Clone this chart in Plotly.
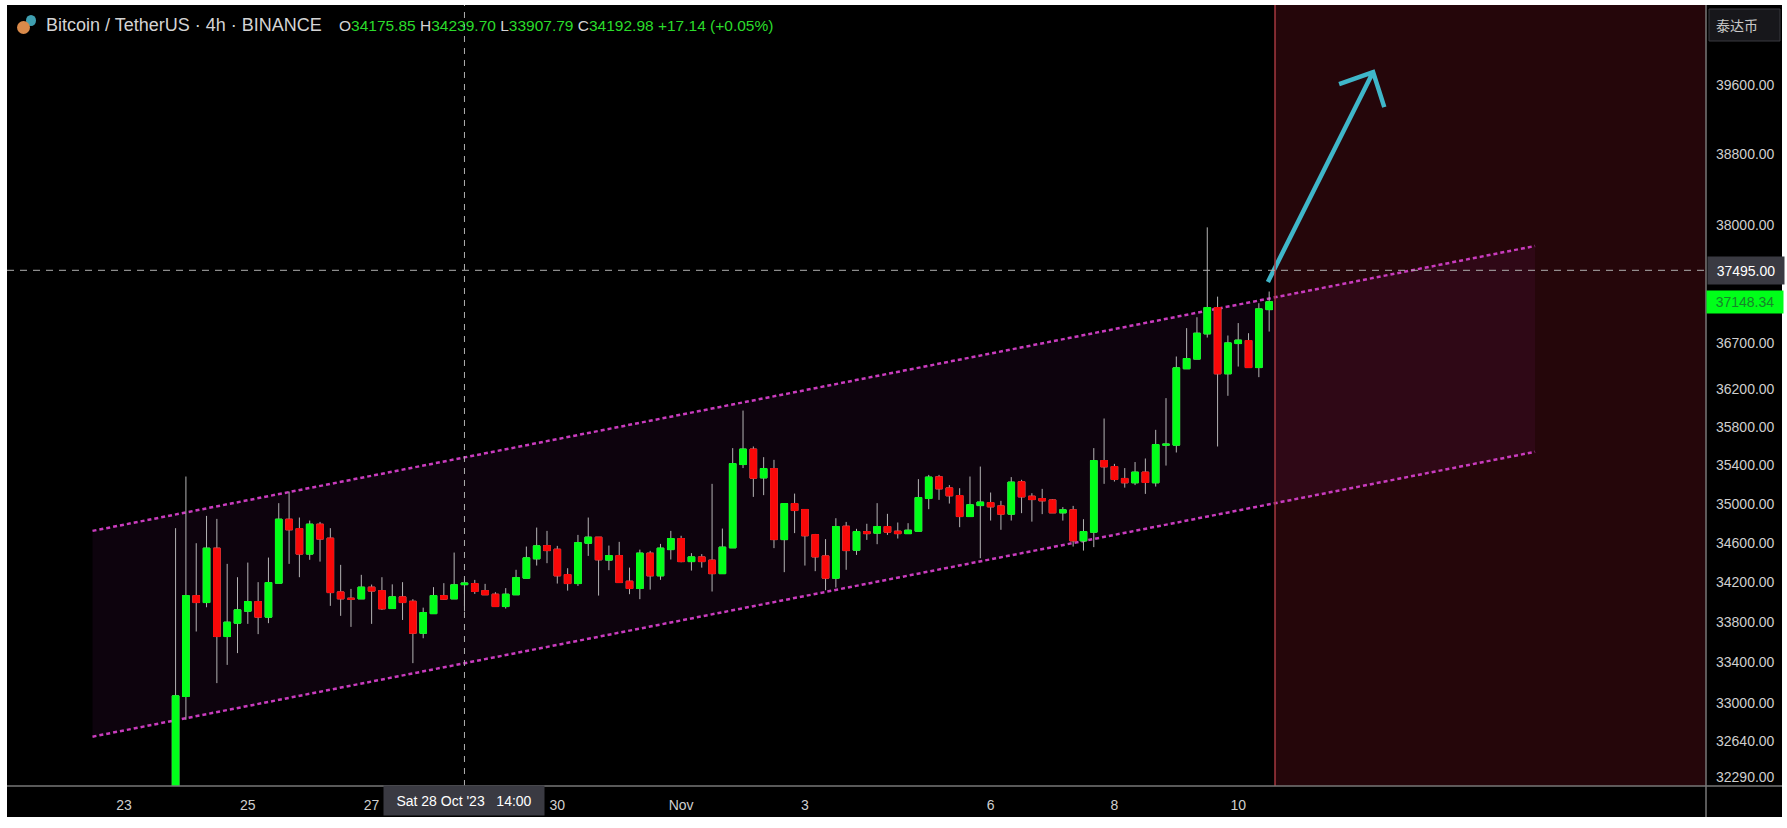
import numpy as np
import pandas as pd
import plotly.graph_objects as go

# 4h candles
candle_time = pd.date_range("2023-10-23 22:00", periods=107, freq="4h")
candle_open = [
    31900, 33067, 34066, 33996, 34546, 33657, 33790, 33910, 34006, 33850,
    34191, 34842, 34746, 34485, 34791, 34648, 34103, 34040, 34033, 34151,
    34116, 33936, 34053, 34009, 33690, 33885, 34066, 34033, 34175.85, 34187,
    34116, 34080, 33956, 34074, 34241, 34437, 34572, 34535, 34278, 34187,
    34596, 34658, 34424, 34470, 34211, 34137, 34495, 34265, 34531, 34644,
    34409, 34457, 34424, 34287, 34549, 35408, 35570, 35269, 35366, 34633,
    35003, 34942, 34684, 34467, 34241, 34770, 34525, 34715, 34699, 34767,
    34719, 34694, 34719, 35055, 35280, 35165, 35086, 34869, 34982, 35013,
    34979, 34894, 35229, 35079, 35055, 35041, 34907, 34938, 34620, 34709,
    35450, 35387, 35263, 35218, 35329, 35218, 35611, 35611, 36422, 36526,
    36799, 37086, 36368, 36694, 36727, 36435, 37063,
]
candle_high = [
    34750, 35283, 34596, 34876, 34845, 34386, 34251, 34399, 34201, 34450,
    35007, 35127, 34859, 34828, 34814, 34750, 34376, 34133, 34275, 34177,
    34251, 34179, 34201, 34030, 33945, 34151, 34191, 34501, 34239.70, 34224,
    34184, 34100, 34141, 34326, 34562, 34756, 34722, 34569, 34342, 34681,
    34859, 34658, 34572, 34610, 34348, 34531, 34518, 34589, 34722, 34672,
    34495, 34485, 35207, 34746, 35580, 35976, 35597, 35485, 35457, 35007,
    35106, 34945, 34691, 34638, 34852, 34814, 34743, 34795, 35007, 34897,
    34808, 34801, 35256, 35300, 35300, 35194, 35162, 35283, 35387, 35117,
    35031, 35277, 35249, 35110, 35155, 35049, 34966, 34979, 34842, 35580,
    35892, 35415, 35371, 35434, 35471, 35772, 36108, 36554, 36861, 36980,
    37973, 37205, 36781, 36916, 36806, 37133, 37261,
]
candle_low = [
    31750, 32841, 33707, 33949, 33198, 33377, 33493, 33783, 33681, 33790,
    34191, 34386, 34251, 34427, 34409, 33963, 33863, 33753, 34033, 33783,
    33923, 33936, 33822, 33394, 33640, 33885, 34023, 34033, 33907.79, 34083,
    34074, 33956, 33936, 34074, 34241, 34369, 34393, 34187, 34116, 34163,
    34467, 34066, 34322, 34197, 34080, 34030, 34126, 34224, 34430, 34402,
    34318, 34348, 34107, 34287, 34549, 35371, 35072, 35090, 34546, 34302,
    34699, 34369, 34312, 34120, 34147, 34326, 34477, 34630, 34586, 34681,
    34644, 34694, 34719, 34945, 35041, 35003, 34760, 34869, 34443, 34828,
    34733, 34828, 34904, 34817, 34894, 34907, 34828, 34562, 34521, 34556,
    35207, 35231, 35168, 35194, 35103, 35179, 35397, 35534, 36422, 36526,
    36759, 35597, 36133, 36446, 36435, 36332, 36824,
]
candle_close = [
    33074, 34066, 33996, 34546, 33657, 33800, 33923, 34006, 33850, 34197,
    34842, 34733, 34485, 34791, 34638, 34096, 34033, 34030, 34151, 34111,
    33933, 34053, 33996, 33690, 33896, 34066, 34030, 34174, 34192.98, 34107,
    34074, 33956, 34080, 34247, 34447, 34569, 34521, 34265, 34187, 34602,
    34658, 34427, 34470, 34197, 34137, 34495, 34265, 34546, 34644, 34409,
    34457, 34409, 34287, 34556, 35418, 35570, 35266, 35366, 34633, 35003,
    34931, 34672, 34457, 34241, 34767, 34521, 34715, 34694, 34767, 34709,
    34694, 34729, 35065, 35277, 35155, 35083, 34869, 34990, 35018, 34969,
    34894, 35225, 35072, 35044, 35031, 34907, 34938, 34620, 34715, 35450,
    35384, 35252, 35218, 35329, 35221, 35617, 35621, 36432, 36532, 36806,
    37086, 36368, 36701, 36731, 36435, 37071, 37148.34,
]

# drawn objects
channel_time = ["2023-10-22 13:47", "2023-11-14 21:05"]
channel_upper = [34722, 37765]
channel_lower = [32678, 35541]
arrow_time = ["2023-11-10 13:31", "2023-11-12 06:18", "2023-11-11 17:07", "2023-11-12 06:18", "2023-11-12 10:38"]
arrow_price = [37367, 39752, 39612, 39752, 39344]

x_range = ["2023-10-21 04:38", "2023-11-17 15:22"]
y_range = [32206, 40546]
zone_start = "2023-11-10 16:16"
cross_time = "2023-10-28 14:00"
cross_price = 37495
last_price = 37148.34

y_ticks = [39600, 38800, 38000, 36700, 36200, 35800, 35400, 35000,
           34600, 34200, 33800, 33400, 33000, 32640, 32290]
x_tick_time = ["2023-10-23 02:00", "2023-10-25 02:00", "2023-10-27 02:00", "2023-10-30 02:00",
               "2023-11-01 02:00", "2023-11-03 02:00", "2023-11-06 02:00", "2023-11-08 02:00",
               "2023-11-10 02:00"]
x_tick_text = ["23", "25", "27", "30", "Nov", "3", "6", "8", "10"]

FONT = "Liberation Sans"
GREEN = "#00ff19"
RED = "#fa0808"
W, H = 1787, 828
L, R, T, B = 7, 1706, 5, 786


def px(x):
    return (x - L) / (R - L)


def py(y):
    return (B - y) / (B - T)


log_range = [float(np.log10(v)) for v in y_range]
fig = go.Figure()

# channel on the base axes so the candles sit on top of it
fig.add_trace(go.Scatter(x=channel_time, y=channel_lower, mode="lines",
                         line=dict(color="#c93cbe", width=2.5, dash="4px,3px")))
fig.add_trace(go.Scatter(x=channel_time, y=channel_upper, mode="lines",
                         line=dict(color="#c93cbe", width=2.5, dash="4px,3px"),
                         fill="tonexty", fillcolor="rgba(185,45,190,0.07)"))
fig.add_trace(go.Scatter(x=arrow_time, y=arrow_price, mode="lines",
                         line=dict(color="#3fb6c9", width=4.5)))

# wicks first, bodies over them (wick colour differs from body colour)
fig.add_trace(go.Candlestick(x=candle_time, open=candle_open, high=candle_high,
                             low=candle_low, close=candle_close, xaxis="x2", yaxis="y2",
                             increasing=dict(line=dict(color="#b4b4b4", width=1), fillcolor="#b4b4b4"),
                             decreasing=dict(line=dict(color="#b4b4b4", width=1), fillcolor="#b4b4b4")))
body_high = [max(o, c) for o, c in zip(candle_open, candle_close)]
body_low = [min(o, c) for o, c in zip(candle_open, candle_close)]
fig.add_trace(go.Candlestick(x=candle_time, open=candle_open, high=body_high,
                             low=body_low, close=candle_close, xaxis="x2", yaxis="y2",
                             increasing=dict(line=dict(color=GREEN, width=1), fillcolor=GREEN),
                             decreasing=dict(line=dict(color=RED, width=1), fillcolor=RED)))

shapes = [
    dict(type="rect", xref="paper", yref="paper", x0=0, x1=px(1782), y0=py(817), y1=1,
         fillcolor="#000000", line_width=0, layer="below"),
    dict(type="rect", xref="x", yref="paper", x0=zone_start, x1=x_range[1], y0=0, y1=1,
         fillcolor="#25060a", line_width=0, layer="below"),
    dict(type="line", xref="x", yref="paper", x0=zone_start, x1=zone_start, y0=0, y1=1,
         line=dict(color="#a5383f", width=1.5), layer="above"),
    dict(type="line", xref="x", yref="paper", x0=cross_time, x1=cross_time, y0=0, y1=1,
         line=dict(color="#b0b0b0", width=1, dash="6px,6px"), layer="above"),
    dict(type="line", xref="paper", yref="y", x0=0, x1=1, y0=cross_price, y1=cross_price,
         line=dict(color="#b0b0b0", width=1, dash="7px,6px"), layer="above"),
    dict(type="line", xref="paper", yref="paper", x0=0, x1=px(1782), y0=0, y1=0,
         line=dict(color="#777777", width=1.5), layer="above"),
    dict(type="line", xref="paper", yref="paper", x0=1, x1=1, y0=py(817), y1=1,
         line=dict(color="#777777", width=1.5), layer="above"),
    dict(type="rect", xref="paper", yref="paper", x0=px(1709), x1=px(1780), y0=py(41), y1=py(9),
         fillcolor="#17171b", line=dict(color="#3a3a40", width=1), layer="above"),
    # ticker icon
    dict(type="circle", xref="paper", yref="paper", x0=px(26), x1=px(36), y0=py(26), y1=py(15),
         fillcolor="#3f9fb0", line_width=0, layer="above"),
    dict(type="circle", xref="paper", yref="paper", x0=px(17), x1=px(30), y0=py(34), y1=py(21),
         fillcolor="#d98a4a", line_width=0, layer="above"),
]

val = "<span style='color:#2bdc2b'>%s</span>"
ohlc = ("O" + val % "34175.85" + " H" + val % "34239.70" + " L" + val % "33907.79"
        + " C" + val % "34192.98" + " " + val % "+17.14 (+0.05%)")

annotations = [
    dict(xref="paper", yref="paper", x=px(44), y=py(25), text="Bitcoin / TetherUS · 4h · BINANCE",
         showarrow=False, xanchor="left", yanchor="middle", font=dict(family=FONT, size=18, color="#d4d4d4")),
    dict(xref="paper", yref="paper", x=px(337), y=py(25), text=ohlc,
         showarrow=False, xanchor="left", yanchor="middle", font=dict(family=FONT, size=15.5, color="#d4d4d4")),
    dict(xref="paper", yref="paper", x=px(1737), y=py(25), text="泰达币",
         showarrow=False, xanchor="center", yanchor="middle",
         font=dict(family="Noto Sans CJK SC", size=14, color="#c8c8c8")),
    dict(xref="paper", yref="y", x=px(1707), y=float(np.log10(cross_price)), text="37495.00",
         showarrow=False, xanchor="left", yanchor="middle", width=74, height=25, bgcolor="#3a3a42",
         font=dict(family=FONT, size=14, color="#ffffff")),
    dict(xref="paper", yref="y", x=px(1706), y=float(np.log10(last_price)), text="37148.34",
         showarrow=False, xanchor="left", yanchor="middle", width=74, height=20, bgcolor="#00ff19",
         font=dict(family=FONT, size=14, color="#17832a")),
    dict(xref="x", yref="paper", x=cross_time, y=py(800.5), text="Sat 28 Oct '23&nbsp;&nbsp;&nbsp;14:00",
         showarrow=False, xanchor="center", yanchor="middle", width=158, height=27, bgcolor="#3a3a42",
         font=dict(family=FONT, size=14, color="#ffffff")),
]

fig.update_layout(
    width=W, height=H, autosize=False,
    margin=dict(l=L, r=W - R, t=T, b=H - B, pad=0),
    paper_bgcolor="#ffffff", plot_bgcolor="#000000",
    showlegend=False, boxgap=0.08,
    font=dict(family=FONT),
    shapes=shapes, annotations=annotations,
    xaxis=dict(type="date", range=x_range, showgrid=False, zeroline=False,
               tickmode="array", tickvals=x_tick_time, ticktext=x_tick_text,
               ticks="", ticklabelstandoff=9, tickfont=dict(family=FONT, size=14, color="#cfcfcf"),
               rangeslider=dict(visible=False)),
    yaxis=dict(type="log", range=log_range, showgrid=False, zeroline=False, side="right",
               tickmode="array", tickvals=y_ticks, ticktext=["%.2f" % v for v in y_ticks],
               ticks="", ticklabelstandoff=9, tickfont=dict(family=FONT, size=14, color="#cfcfcf")),
    xaxis2=dict(type="date", range=x_range, overlaying="x", visible=False,
                rangeslider=dict(visible=False)),
    yaxis2=dict(type="log", range=log_range, overlaying="y", visible=False, side="right"),
)

fig.write_html("out.html", config={"displayModeBar": False},
               post_script="document.body.style.margin='0';document.body.style.overflow='hidden';")
